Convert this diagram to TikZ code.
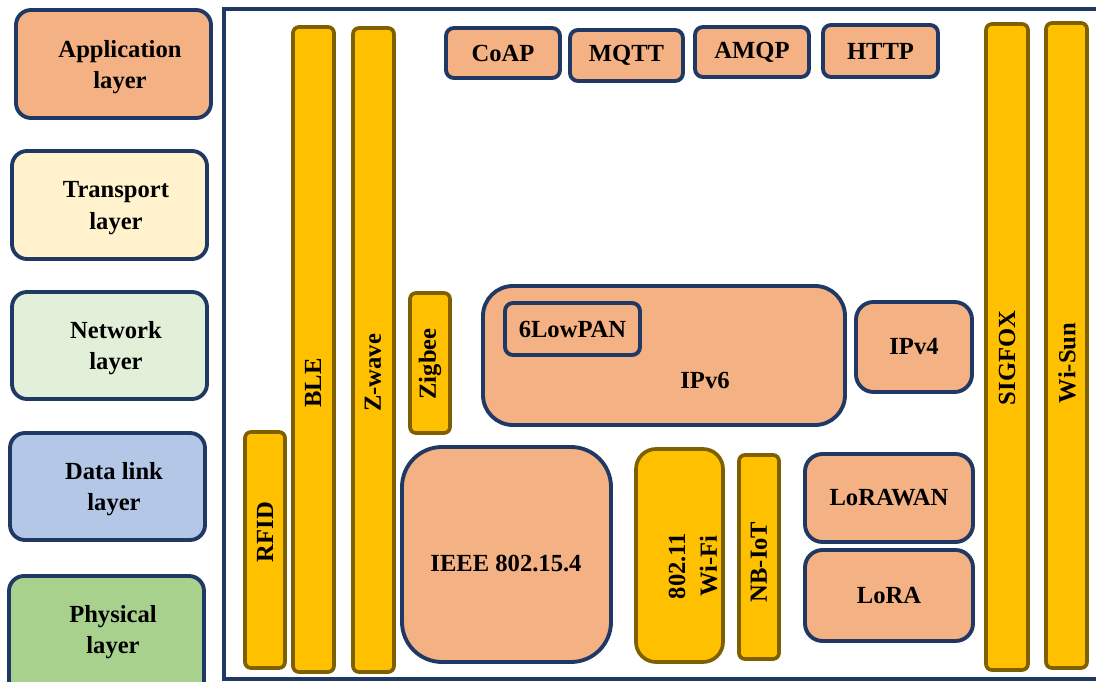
\documentclass[tikz,border=0pt]{standalone}
\usepackage{fontspec}
\setmainfont{Liberation Serif}
\usetikzlibrary{fit, positioning}
\definecolor{navy}{HTML}{1F3864}
\definecolor{peach}{HTML}{F4B183}
\definecolor{gold}{HTML}{FFC000}
\definecolor{barline}{HTML}{7F6000}
\definecolor{transp}{HTML}{FFF2CC}
\definecolor{netw}{HTML}{E2F0D9}
\definecolor{dlink}{HTML}{B4C7E7}
\definecolor{phys}{HTML}{A9D18E}
\tikzset{
  txt/.style={font=\fontsize{14}{18}\selectfont\bfseries, align=center, inner sep=0pt},
  layerbox/.style={draw=navy, line width=2.2pt, rounded corners=0.3cm, inner sep=0pt},
  protobox/.style={draw=navy, fill=peach, line width=2.2pt, inner sep=0pt},
  bar/.style={draw=barline, fill=gold, line width=2.1pt, rounded corners=0.12cm, inner sep=0pt},
}
\begin{document}
\begin{tikzpicture}[x=0.02cm, y=-0.02cm]
  \clip (0,0) rectangle (1096,682);
  % Layers
  \node[layerbox, fill=peach, fit={(16,10) (211,118)}] (app) {};
  \node[txt] (app-t) at (120,67) {Application\\layer};
  \node[layerbox, fill=transp, fit={(12,151) (207,259)}] (trans) {};
  \node[txt] (trans-t) at (116,208) {Transport\\layer};
  \node[layerbox, fill=netw, fit={(12,292) (207,399)}] (net) {};
  \node[txt] (net-t) at (116,348) {Network\\layer};
  \node[layerbox, fill=dlink, fit={(10,433) (205,540)}] (dl) {};
  \node[txt] (dl-t) at (114,489) {Data link\\layer};
  \node[layerbox, fill=phys, fit={(9,576) (204,700)}] (phy) {};
  \node[txt] (phy-t) at (113,632) {Physical\\layer};
  % Frame
  \draw[navy, line width=2.1pt] (1110,9) -- (224,9) -- (224,679) -- (1110,679);
  % Vertical bars
  \node[bar, fit={(245,432) (285,668)}] (rfid) {};
  \node[txt, rotate=90] (rfid-t) at (265,532) {RFID};
  \node[bar, fit={(293,27) (334,672)}] (ble) {};
  \node[txt, rotate=90] (ble-t) at (313,383) {BLE};
  \node[bar, fit={(353,28) (394,672)}] (zwave) {};
  \node[txt, rotate=90] (zwave-t) at (373,373) {Z-wave};
  \node[bar, fit={(410,293) (450,433)}] (zigbee) {};
  \node[txt, rotate=90] (zigbee-t) at (430,364) {Zigbee};
  \node[bar, rounded corners=0.4cm, fit={(636,449) (723,662)}] (wifi) {};
  \node[txt, rotate=90] (wifi-t) at (693,566) {802.11\\Wi-Fi};
  \node[bar, fit={(739,455) (779,659)}] (nbiot) {};
  \node[txt, rotate=90] (nbiot-t) at (759,562) {NB-IoT};
  \node[bar, fit={(986,24) (1028,670)}] (sigfox) {};
  \node[txt, rotate=90] (sigfox-t) at (1007,358) {SIGFOX};
  \node[bar, fit={(1046,23) (1087,668)}] (wisun) {};
  \node[txt, rotate=90] (wisun-t) at (1067,363) {Wi-Sun};
  % Application protocols
  \node[protobox, rounded corners=0.16cm, fit={(446,28) (560,78)}] (coap) {};
  \node[txt] (coap-t) at (coap.center) {CoAP};
  \node[protobox, rounded corners=0.16cm, fit={(570,30) (683,81)}] (mqtt) {};
  \node[txt] (mqtt-t) at (mqtt.center) {MQTT};
  \node[protobox, rounded corners=0.16cm, fit={(695,27) (809,77)}] (amqp) {};
  \node[txt] (amqp-t) at (amqp.center) {AMQP};
  \node[protobox, rounded corners=0.16cm, fit={(823,25) (938,77)}] (http) {};
  \node[txt] (http-t) at (http.center) {HTTP};
  % Network protocols
  \node[protobox, rounded corners=0.6cm, fit={(483,286) (845,425)}] (ipv6) {};
  \node[txt] (ipv6-t) at (705,380) {IPv6};
  \node[protobox, rounded corners=0.16cm, fit={(505,303) (640,355)}] (lowpan) {};
  \node[txt] (lowpan-t) at (lowpan.center) {6LowPAN};
  \node[protobox, rounded corners=0.35cm, fit={(856,302) (972,392)}] (ipv4) {};
  \node[txt] (ipv4-t) at (ipv4.center) {IPv4};
  % Link and physical
  \node[protobox, rounded corners=0.8cm, fit={(402,447) (611,662)}] (ieee) {};
  \node[txt] (ieee-t) at (506,563) {IEEE 802.15.4};
  \node[protobox, rounded corners=0.35cm, fit={(805,454) (973,542)}] (lorawan) {};
  \node[txt] (lorawan-t) at (lorawan.center) {LoRAWAN};
  \node[protobox, rounded corners=0.35cm, fit={(805,550) (973,641)}] (lora) {};
  \node[txt] (lora-t) at (lora.center) {LoRA};
\end{tikzpicture}
\end{document}
